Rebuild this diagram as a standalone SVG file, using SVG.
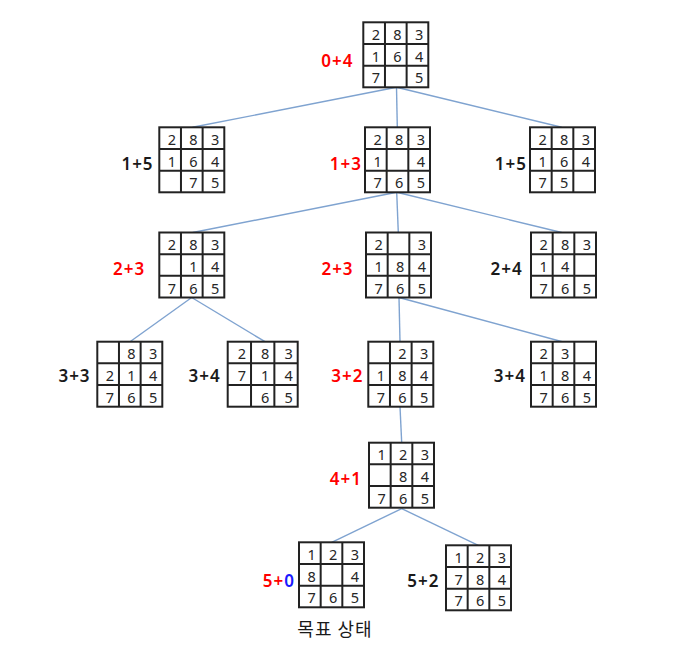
<svg xmlns="http://www.w3.org/2000/svg" xmlns:xlink="http://www.w3.org/1999/xlink" width="690" height="646" viewBox="0 0 690 646">
<style>
.g{fill:#fff;stroke:#222;stroke-width:2}
.gl{fill:none;stroke:#222;stroke-width:2}
.d{font-family:"Noto Sans","Liberation Sans",sans-serif;font-size:14.5px;fill:#262626;text-anchor:end}
.lb{font-family:"Noto Sans","Liberation Sans",sans-serif;font-size:17px;font-weight:600;text-anchor:middle;letter-spacing:1px}
.r{fill:#ff0000}.k{fill:#1a1a1a}.b{fill:#1a1aff}
.ko{font-family:"Noto Sans CJK KR","Noto Sans",sans-serif;font-size:18px;fill:#1a1a1a;text-anchor:middle;letter-spacing:1px}
.c{fill:none;stroke:#7fa3d0;stroke-width:1.4}
</style>
<defs>
<g id="g65"><rect class="g" x="0" y="0" width="65" height="65"/><path class="gl" d="M21.67 0V65M43.33 0V65M0 21.67H65M0 43.33H65"/></g>
</defs>
<rect width="690" height="646" fill="#fff"/>
<g id="connectors">
<line class="c" x1="396.5" y1="87.3" x2="192.5" y2="127.3"/>
<line class="c" x1="396.5" y1="87.3" x2="397.3" y2="127.3"/>
<line class="c" x1="396.5" y1="87.3" x2="561.7" y2="127.3"/>
<line class="c" x1="396.7" y1="192.3" x2="192.7" y2="232.5"/>
<line class="c" x1="396.7" y1="192.3" x2="398.3" y2="232.5"/>
<line class="c" x1="396.7" y1="192.3" x2="561.7" y2="232.5"/>
<line class="c" x1="191.7" y1="297.5" x2="130" y2="341.7"/>
<line class="c" x1="191.7" y1="297.5" x2="265" y2="341.7"/>
<line class="c" x1="399" y1="297.5" x2="400" y2="341.7"/>
<line class="c" x1="399" y1="297.5" x2="562.3" y2="341.7"/>
<line class="c" x1="400" y1="406.7" x2="401.7" y2="442.7"/>
<line class="c" x1="401.7" y1="508.7" x2="331.7" y2="542.3"/>
<line class="c" x1="401.7" y1="508.7" x2="478.3" y2="545.3"/>
</g>
<g id="n0">
<text class="lb r" x="337.3" y="66.7">0+4</text>
<g transform="translate(363.3,22.3)"><use xlink:href="#g65"/>
<text class="d" x="16.7" y="17.7">2</text><text class="d" x="38.3" y="17.7">8</text><text class="d" x="60" y="17.7">3</text>
<text class="d" x="16.7" y="39.3">1</text><text class="d" x="38.3" y="39.3">6</text><text class="d" x="60" y="39.3">4</text>
<text class="d" x="16.7" y="61">7</text><text class="d" x="60" y="61">5</text></g>
</g>
<g id="n1a">
<text class="lb k" x="137.5" y="170">1+5</text>
<g transform="translate(159.3,127.3)"><use xlink:href="#g65"/>
<text class="d" x="16.7" y="17.7">2</text><text class="d" x="38.3" y="17.7">8</text><text class="d" x="60" y="17.7">3</text>
<text class="d" x="16.7" y="39.3">1</text><text class="d" x="38.3" y="39.3">6</text><text class="d" x="60" y="39.3">4</text>
<text class="d" x="38.3" y="61">7</text><text class="d" x="60" y="61">5</text></g>
</g>
<g id="n1b">
<text class="lb r" x="345.8" y="170">1+3</text>
<g transform="translate(365,127.3)"><use xlink:href="#g65"/>
<text class="d" x="16.7" y="17.7">2</text><text class="d" x="38.3" y="17.7">8</text><text class="d" x="60" y="17.7">3</text>
<text class="d" x="16.7" y="39.3">1</text><text class="d" x="60" y="39.3">4</text>
<text class="d" x="16.7" y="61">7</text><text class="d" x="38.3" y="61">6</text><text class="d" x="60" y="61">5</text></g>
</g>
<g id="n1c">
<text class="lb k" x="510.8" y="170">1+5</text>
<g transform="translate(530,127.3)"><use xlink:href="#g65"/>
<text class="d" x="16.7" y="17.7">2</text><text class="d" x="38.3" y="17.7">8</text><text class="d" x="60" y="17.7">3</text>
<text class="d" x="16.7" y="39.3">1</text><text class="d" x="38.3" y="39.3">6</text><text class="d" x="60" y="39.3">4</text>
<text class="d" x="16.7" y="61">7</text><text class="d" x="38.3" y="61">5</text></g>
</g>
<g id="n2a">
<text class="lb r" x="129.2" y="275">2+3</text>
<g transform="translate(159.3,232.5)"><use xlink:href="#g65"/>
<text class="d" x="16.7" y="17.7">2</text><text class="d" x="38.3" y="17.7">8</text><text class="d" x="60" y="17.7">3</text>
<text class="d" x="38.3" y="39.3">1</text><text class="d" x="60" y="39.3">4</text>
<text class="d" x="16.7" y="61">7</text><text class="d" x="38.3" y="61">6</text><text class="d" x="60" y="61">5</text></g>
</g>
<g id="n2b">
<text class="lb r" x="337.5" y="275">2+3</text>
<g transform="translate(366,232.5)"><use xlink:href="#g65"/>
<text class="d" x="16.7" y="17.7">2</text><text class="d" x="60" y="17.7">3</text>
<text class="d" x="16.7" y="39.3">1</text><text class="d" x="38.3" y="39.3">8</text><text class="d" x="60" y="39.3">4</text>
<text class="d" x="16.7" y="61">7</text><text class="d" x="38.3" y="61">6</text><text class="d" x="60" y="61">5</text></g>
</g>
<g id="n2c">
<text class="lb k" x="506.7" y="275">2+4</text>
<g transform="translate(531,232.5)"><use xlink:href="#g65"/>
<text class="d" x="16.7" y="17.7">2</text><text class="d" x="38.3" y="17.7">8</text><text class="d" x="60" y="17.7">3</text>
<text class="d" x="16.7" y="39.3">1</text><text class="d" x="38.3" y="39.3">4</text>
<text class="d" x="16.7" y="61">7</text><text class="d" x="38.3" y="61">6</text><text class="d" x="60" y="61">5</text></g>
</g>
<g id="n3a">
<text class="lb k" x="74.5" y="382.3">3+3</text>
<g transform="translate(97.3,341.7)"><use xlink:href="#g65"/>
<text class="d" x="38.3" y="17.7">8</text><text class="d" x="60" y="17.7">3</text>
<text class="d" x="16.7" y="39.3">2</text><text class="d" x="38.3" y="39.3">1</text><text class="d" x="60" y="39.3">4</text>
<text class="d" x="16.7" y="61">7</text><text class="d" x="38.3" y="61">6</text><text class="d" x="60" y="61">5</text></g>
</g>
<g id="n3b">
<text class="lb k" x="204.7" y="382.3">3+4</text>
<g transform="translate(227.7,341.7)"><rect class="g" x="0" y="0" width="70" height="65"/><path class="gl" d="M23.33 0V65M46.67 0V65M0 21.67H70M0 43.33H70"/>
<text class="d" x="18.3" y="17.7">2</text><text class="d" x="41.7" y="17.7">8</text><text class="d" x="65" y="17.7">3</text>
<text class="d" x="18.3" y="39.3">7</text><text class="d" x="41.7" y="39.3">1</text><text class="d" x="65" y="39.3">4</text>
<text class="d" x="41.7" y="61">6</text><text class="d" x="65" y="61">5</text></g>
</g>
<g id="n3c">
<text class="lb r" x="347.3" y="382.3">3+2</text>
<g transform="translate(368.3,341.7)"><use xlink:href="#g65"/>
<text class="d" x="38.3" y="17.7">2</text><text class="d" x="60" y="17.7">3</text>
<text class="d" x="16.7" y="39.3">1</text><text class="d" x="38.3" y="39.3">8</text><text class="d" x="60" y="39.3">4</text>
<text class="d" x="16.7" y="61">7</text><text class="d" x="38.3" y="61">6</text><text class="d" x="60" y="61">5</text></g>
</g>
<g id="n3d">
<text class="lb k" x="509.8" y="382.3">3+4</text>
<g transform="translate(531,341.7)"><use xlink:href="#g65"/>
<text class="d" x="16.7" y="17.7">2</text><text class="d" x="38.3" y="17.7">3</text>
<text class="d" x="16.7" y="39.3">1</text><text class="d" x="38.3" y="39.3">8</text><text class="d" x="60" y="39.3">4</text>
<text class="d" x="16.7" y="61">7</text><text class="d" x="38.3" y="61">6</text><text class="d" x="60" y="61">5</text></g>
</g>
<g id="n4">
<text class="lb r" x="345.8" y="485">4+1</text>
<g transform="translate(369,442.7)"><use xlink:href="#g65"/>
<text class="d" x="16.7" y="17.7">1</text><text class="d" x="38.3" y="17.7">2</text><text class="d" x="60" y="17.7">3</text>
<text class="d" x="38.3" y="39.3">8</text><text class="d" x="60" y="39.3">4</text>
<text class="d" x="16.7" y="61">7</text><text class="d" x="38.3" y="61">6</text><text class="d" x="60" y="61">5</text></g>
</g>
<g id="n5a">
<text class="lb r" x="278.8" y="586.7">5+<tspan class="b">0</tspan></text>
<g transform="translate(299,542.3)"><use xlink:href="#g65"/>
<text class="d" x="16.7" y="17.7">1</text><text class="d" x="38.3" y="17.7">2</text><text class="d" x="60" y="17.7">3</text>
<text class="d" x="16.7" y="39.3">8</text><text class="d" x="60" y="39.3">4</text>
<text class="d" x="16.7" y="61">7</text><text class="d" x="38.3" y="61">6</text><text class="d" x="60" y="61">5</text></g>
<text class="ko" x="335" y="636">목표 상태</text>
</g>
<g id="n5b">
<text class="lb k" x="423.3" y="586.7">5+2</text>
<g transform="translate(446,545.3)"><use xlink:href="#g65"/>
<text class="d" x="16.7" y="17.7">1</text><text class="d" x="38.3" y="17.7">2</text><text class="d" x="60" y="17.7">3</text>
<text class="d" x="16.7" y="39.3">7</text><text class="d" x="38.3" y="39.3">8</text><text class="d" x="60" y="39.3">4</text>
<text class="d" x="16.7" y="61">7</text><text class="d" x="38.3" y="61">6</text><text class="d" x="60" y="61">5</text></g>
</g>
</svg>
